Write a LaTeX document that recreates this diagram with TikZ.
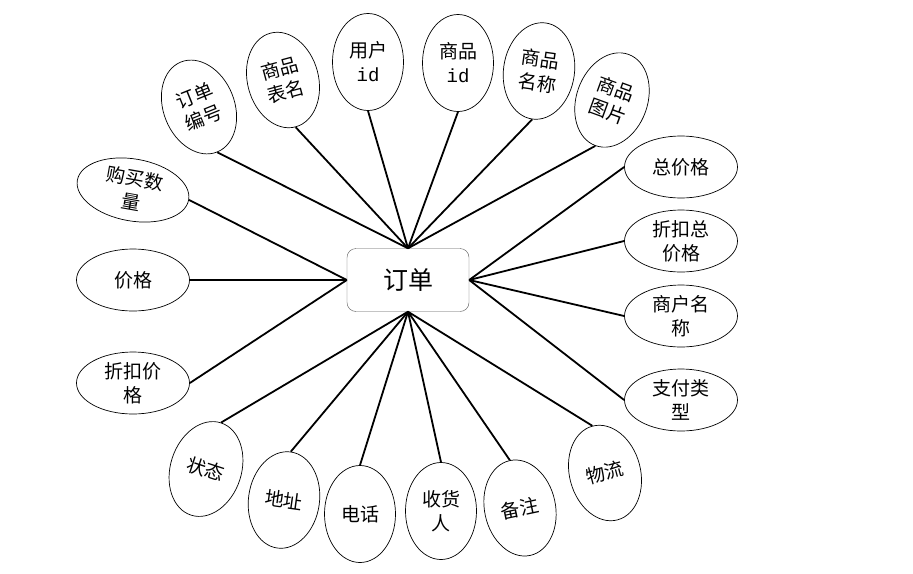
\documentclass[tikz,border=0pt]{standalone}
\usepackage{fontspec}
\newfontfamily\cjk{Noto Sans CJK SC}
\newfontfamily\idfont{Liberation Mono}
\usetikzlibrary{shapes.geometric}

\begin{document}
\begin{tikzpicture}[
  x=1pt, y=-1pt,
  ent/.style={draw=black!65, fill=white, rounded corners=9pt, minimum width=122pt, minimum height=63pt, font=\cjk\fontsize{25}{28}\selectfont},
  attr/.style={draw, ellipse, line width=0.7pt, inner sep=0pt, minimum width=71pt, minimum height=97pt, align=center, font=\cjk\fontsize{19}{24}\selectfont},
  sattr/.style={attr, minimum width=113pt, minimum height=62pt},
  link/.style={line width=1.8pt}
]
\useasboundingbox (0,0) rectangle (913,573);
\node[ent] (ord) at (408,280) {订单};
\node[attr, rotate=22] (ddbh) at (199,107) {订单\\编号};
\node[attr, rotate=15] (spbm) at (283,80) {商品\\表名};
\node[attr] (yhid) at (368,62) {用户\\{\idfont id}};
\node[attr] (spid) at (458,63) {商品\\{\idfont id}};
\node[attr, rotate=-8] (spmc) at (539,71) {商品\\名称};
\node[attr, rotate=-20] (sptp) at (612,100) {商品\\图片};
\node[sattr] (zjg) at (681,167) {总价格};
\node[sattr] (zkzjg) at (681,241) {折扣总\\价格};
\node[sattr] (shmc) at (681,316) {商户名\\称};
\node[sattr] (zflx) at (681,400) {支付类\\型};
\node[attr, rotate=15] (wl) at (605,473) {物流};
\node[attr, rotate=12] (bz) at (520,508) {备注};
\node[attr] (shr) at (441,511) {收货\\人};
\node[attr] (dh) at (360,514) {电话};
\node[attr, rotate=-8] (dz) at (284,500) {地址};
\node[attr, rotate=-18] (zt) at (206,469) {状态};
\node[sattr] (zkjg) at (133,383) {折扣价\\格};
\node[sattr] (jg) at (133,280) {价格};
\node[sattr, rotate=-10] (gmsl) at (133,190) {购买数\\量};
\draw[link] (ord.north) -- (ddbh.south);
\draw[link] (ord.north) -- (spbm.south);
\draw[link] (ord.north) -- (yhid.south);
\draw[link] (ord.north) -- (spid.south);
\draw[link] (ord.north) -- (spmc.south);
\draw[link] (ord.north) -- (sptp.south);
\draw[link] (ord.east) -- (zjg.west);
\draw[link] (ord.east) -- (zkzjg.west);
\draw[link] (ord.east) -- (shmc.west);
\draw[link] (ord.east) -- (zflx.west);
\draw[link] (ord.south) -- (wl.north);
\draw[link] (ord.south) -- (bz.north);
\draw[link] (ord.south) -- (shr.north);
\draw[link] (ord.south) -- (dh.north);
\draw[link] (ord.south) -- (dz.north);
\draw[link] (ord.south) -- (zt.north);
\draw[link] (ord.west) -- (zkjg.east);
\draw[link] (ord.west) -- (jg.east);
\draw[link] (ord.west) -- (gmsl.east);
\end{tikzpicture}
\end{document}
